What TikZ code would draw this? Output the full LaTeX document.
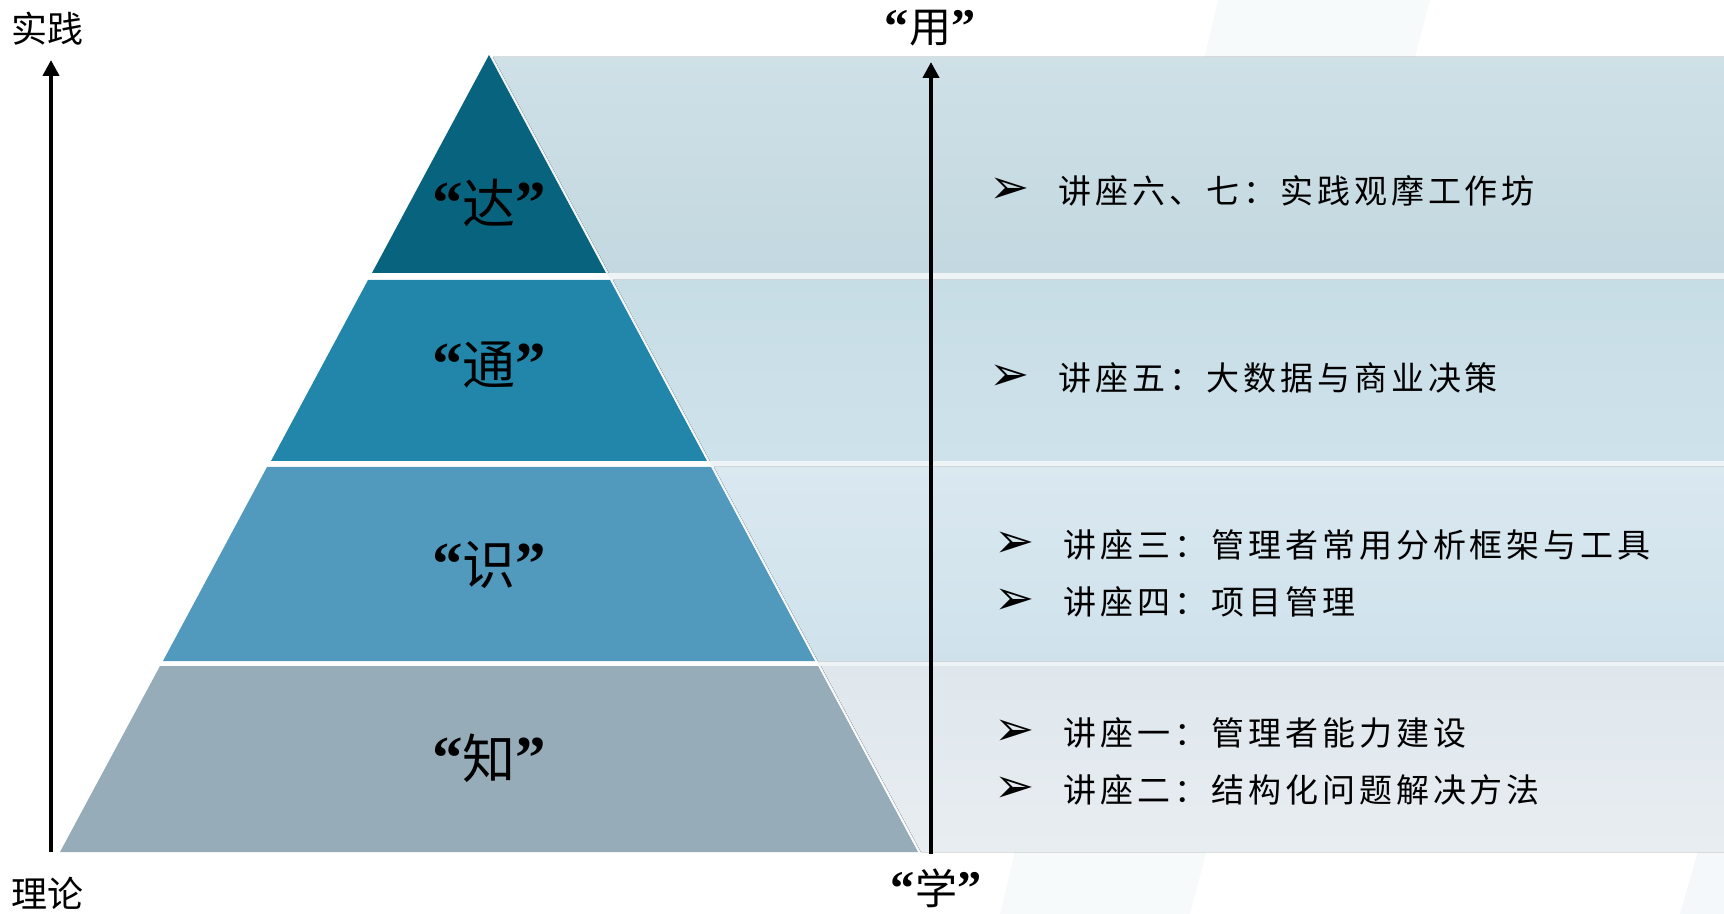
\documentclass[tikz,border=0pt]{standalone}
\usepackage{fontspec}
\setmainfont{Noto Sans CJK SC}
\newfontfamily\quotefont{Liberation Serif}[BoldFont={Liberation Serif Bold}]
\newfontfamily\dingfont{DejaVu Sans}
\usetikzlibrary{arrows.meta,positioning}
\definecolor{tierda}{HTML}{08647E}
\definecolor{tiertong}{HTML}{2286AB}
\definecolor{tiershi}{HTML}{519ABD}
\definecolor{tierzhi}{HTML}{96ACB8}
\definecolor{gapgray}{HTML}{EEF3F6}
\newcommand*{\qt}[1]{{\quotefont\bfseries\scalebox{1.15}{“}}#1{\quotefont\bfseries\scalebox{1.15}{”}}}

\begin{document}
\begin{tikzpicture}[x=0.5pt, y=-0.5pt, >={Triangle[length=8pt,width=8pt]}]
\tikzstyle{tier}=[draw=none]
\tikzstyle{band}=[draw=none]
\tikzstyle{axis}=[->, line width=2.3pt, black]
\tikzstyle{axislabel}=[inner sep=0pt, font=\fontsize{18}{18}\selectfont]
\tikzstyle{tierlabel}=[inner sep=0pt, font=\fontsize{26.5}{26.5}\selectfont]
\tikzstyle{sidelabel}=[inner sep=0pt, font=\fontsize{21}{21}\selectfont]
\tikzstyle{item}=[inner sep=0pt, anchor=west, font=\fontsize{16.5}{16.5}\selectfont\addfontfeature{LetterSpace=12}]
\tikzstyle{bullet}=[inner sep=0pt, font=\fontsize{24}{24}\dingfont]
\useasboundingbox (0,0) rectangle (1724,914);
\fill[white] (0,0) rectangle (1724,914);
% faint background stripes
\fill[gapgray!45] (1218,0) -- (1430,0) -- (1190,914) -- (1000,914) -- cycle;
\fill[gapgray!60] (1724,760) -- (1724,914) -- (1680,914) -- cycle;
% bands behind the list
\fill[gapgray] (490,57) -- (1724,57) -- (1724,852) -- (920,852) -- cycle;
\fill[band, top color={rgb,255:red,207;green,224;blue,231}, bottom color={rgb,255:red,195;green,216;blue,224}]
  (493,57) -- (1724,57) -- (1724,273) -- (609,273) -- cycle;
\fill[band, top color={rgb,255:red,199;green,221;blue,230}, bottom color={rgb,255:red,206;green,226;blue,235}]
  (613,280) -- (1724,280) -- (1724,461) -- (710,461) -- cycle;
\fill[band, top color={rgb,255:red,218;green,232;blue,240}, bottom color={rgb,255:red,207;green,226;blue,236}]
  (714,467) -- (1724,467) -- (1724,661) -- (818,661) -- cycle;
\fill[band, top color={rgb,255:red,223;green,231;blue,237}, bottom color={rgb,255:red,232;green,237;blue,241}]
  (821,666) -- (1724,666) -- (1724,852) -- (921,852) -- cycle;
% pyramid
\fill[tier, tierda]   (489,55) -- (606,273) -- (372,273) -- cycle;
\fill[tier, tiertong] (368,280) -- (610,280) -- (707,461) -- (271,461) -- cycle;
\fill[tier, tiershi]  (267,467) -- (711,467) -- (815,661) -- (163,661) -- cycle;
\fill[tier, tierzhi]  (160,666) -- (818,666) -- (918,852) -- (60,852) -- cycle;
\node[tierlabel] (da)   at (489,203) {\qt{达}};
\node[tierlabel] (tong) at (489,365) {\qt{通}};
\node[tierlabel] (shi)  at (489,565) {\qt{识}};
\node[tierlabel] (zhi)  at (489,758) {\qt{知}};
% axes
\coordinate (lbot) at (51,852);
\coordinate (ltop) at (51,60);
\coordinate (rbot) at (931,854);
\coordinate (rtop) at (931,62);
\draw[axis] (lbot) -- (ltop);
\draw[axis] (rbot) -- (rtop);
\node[axislabel] (shijian) at (47,29)  {实践};
\node[axislabel] (lilun)   at (47,893) {理论};
\node[sidelabel] (yong)    at (930,28) {\qt{用}};
\node[sidelabel] (xue)     at (936,888) {\qt{学}};
% lectures
\node[item] (l6) at (1058,191) {讲座六、七：实践观摩工作坊};
\node[item] (l5) at (1058,378) {讲座五：大数据与商业决策};
\node[item] (l3) at (1063,545) {讲座三：管理者常用分析框架与工具};
\node[item] (l4) at (1063,602) {讲座四：项目管理};
\node[item] (l1) at (1063,733) {讲座一：管理者能力建设};
\node[item] (l2) at (1063,790) {讲座二：结构化问题解决方法};
\foreach \l in {l6,l5,l3,l4,l1,l2}
  \node[bullet, left=14pt of \l.west] {➢};
\end{tikzpicture}
\end{document}
